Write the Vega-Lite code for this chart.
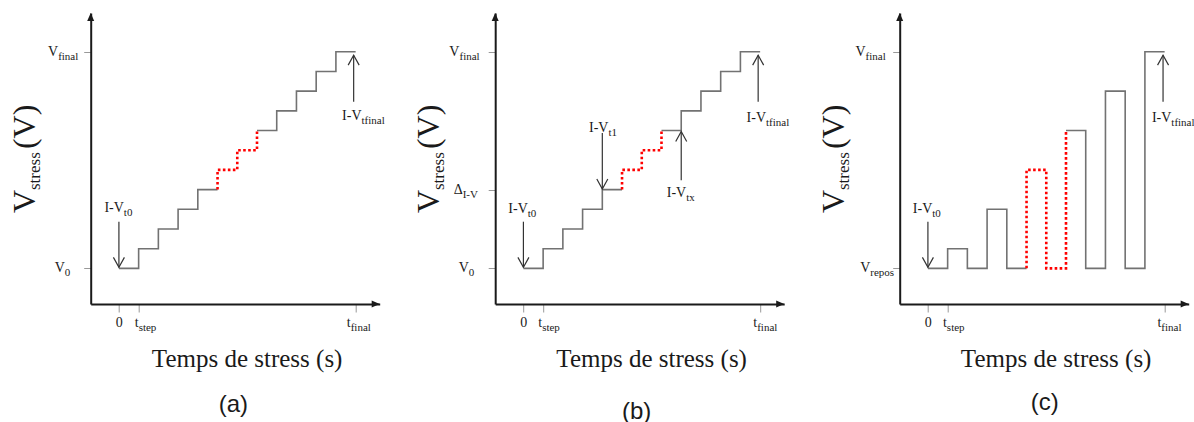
{
  "$schema": "https://vega.github.io/schema/vega-lite/v6.json",
  "autosize": {"type": "none"},
  "padding": {"left": 90.7, "top": 13, "right": 1103.3, "bottom": 409},
  "background": "white",
  "spacing": 115.5,
  "bounds": "flush",
  "config": {
    "view": {"stroke": null},
    "axis": {"labels": false, "title": null, "grid": false, "domainColor": "#1a1a1a", "domainWidth": 2, "tickColor": "#999999", "tickWidth": 1},
    "axisX": {"tickSize": 8},
    "axisY": {"tickSize": 7}
  },
  "datasets": {
    "lines": [
      {"p":"a","s":1,"k":"solid","i":0,"t":0,"v":0},{"p":"a","s":1,"k":"solid","i":1,"t":1,"v":0},{"p":"a","s":1,"k":"solid","i":2,"t":1,"v":1},{"p":"a","s":1,"k":"solid","i":3,"t":2,"v":1},{"p":"a","s":1,"k":"solid","i":4,"t":2,"v":2},{"p":"a","s":1,"k":"solid","i":5,"t":3,"v":2},{"p":"a","s":1,"k":"solid","i":6,"t":3,"v":3},{"p":"a","s":1,"k":"solid","i":7,"t":4,"v":3},{"p":"a","s":1,"k":"solid","i":8,"t":4,"v":4},{"p":"a","s":1,"k":"solid","i":9,"t":5,"v":4},
      {"p":"a","s":2,"k":"dot","i":0,"t":5,"v":4},{"p":"a","s":2,"k":"dot","i":1,"t":5,"v":5},{"p":"a","s":2,"k":"dot","i":2,"t":6,"v":5},{"p":"a","s":2,"k":"dot","i":3,"t":6,"v":6},{"p":"a","s":2,"k":"dot","i":4,"t":7,"v":6},{"p":"a","s":2,"k":"dot","i":5,"t":7,"v":7},
      {"p":"a","s":3,"k":"solid","i":0,"t":7,"v":7},{"p":"a","s":3,"k":"solid","i":1,"t":8,"v":7},{"p":"a","s":3,"k":"solid","i":2,"t":8,"v":8},{"p":"a","s":3,"k":"solid","i":3,"t":9,"v":8},{"p":"a","s":3,"k":"solid","i":4,"t":9,"v":9},{"p":"a","s":3,"k":"solid","i":5,"t":10,"v":9},{"p":"a","s":3,"k":"solid","i":6,"t":10,"v":10},{"p":"a","s":3,"k":"solid","i":7,"t":11,"v":10},{"p":"a","s":3,"k":"solid","i":8,"t":11,"v":11},{"p":"a","s":3,"k":"solid","i":9,"t":12,"v":11},
      {"p":"b","s":1,"k":"solid","i":0,"t":0,"v":0},{"p":"b","s":1,"k":"solid","i":1,"t":1,"v":0},{"p":"b","s":1,"k":"solid","i":2,"t":1,"v":1},{"p":"b","s":1,"k":"solid","i":3,"t":2,"v":1},{"p":"b","s":1,"k":"solid","i":4,"t":2,"v":2},{"p":"b","s":1,"k":"solid","i":5,"t":3,"v":2},{"p":"b","s":1,"k":"solid","i":6,"t":3,"v":3},{"p":"b","s":1,"k":"solid","i":7,"t":4,"v":3},{"p":"b","s":1,"k":"solid","i":8,"t":4,"v":4},{"p":"b","s":1,"k":"solid","i":9,"t":5,"v":4},
      {"p":"b","s":2,"k":"dot","i":0,"t":5,"v":4},{"p":"b","s":2,"k":"dot","i":1,"t":5,"v":5},{"p":"b","s":2,"k":"dot","i":2,"t":6,"v":5},{"p":"b","s":2,"k":"dot","i":3,"t":6,"v":6},{"p":"b","s":2,"k":"dot","i":4,"t":7,"v":6},{"p":"b","s":2,"k":"dot","i":5,"t":7,"v":7},
      {"p":"b","s":3,"k":"solid","i":0,"t":7,"v":7},{"p":"b","s":3,"k":"solid","i":1,"t":8,"v":7},{"p":"b","s":3,"k":"solid","i":2,"t":8,"v":8},{"p":"b","s":3,"k":"solid","i":3,"t":9,"v":8},{"p":"b","s":3,"k":"solid","i":4,"t":9,"v":9},{"p":"b","s":3,"k":"solid","i":5,"t":10,"v":9},{"p":"b","s":3,"k":"solid","i":6,"t":10,"v":10},{"p":"b","s":3,"k":"solid","i":7,"t":11,"v":10},{"p":"b","s":3,"k":"solid","i":8,"t":11,"v":11},{"p":"b","s":3,"k":"solid","i":9,"t":12,"v":11},
      {"p":"c","s":1,"k":"solid","i":0,"t":0,"v":0},{"p":"c","s":1,"k":"solid","i":1,"t":1,"v":0},{"p":"c","s":1,"k":"solid","i":2,"t":1,"v":1},{"p":"c","s":1,"k":"solid","i":3,"t":2,"v":1},{"p":"c","s":1,"k":"solid","i":4,"t":2,"v":0},{"p":"c","s":1,"k":"solid","i":5,"t":3,"v":0},{"p":"c","s":1,"k":"solid","i":6,"t":3,"v":3},{"p":"c","s":1,"k":"solid","i":7,"t":4,"v":3},{"p":"c","s":1,"k":"solid","i":8,"t":4,"v":0},{"p":"c","s":1,"k":"solid","i":9,"t":5,"v":0},
      {"p":"c","s":2,"k":"dot","i":0,"t":5,"v":0},{"p":"c","s":2,"k":"dot","i":1,"t":5,"v":5},{"p":"c","s":2,"k":"dot","i":2,"t":6,"v":5},{"p":"c","s":2,"k":"dot","i":3,"t":6,"v":0},{"p":"c","s":2,"k":"dot","i":4,"t":7,"v":0},{"p":"c","s":2,"k":"dot","i":5,"t":7,"v":7},
      {"p":"c","s":3,"k":"solid","i":0,"t":7,"v":7},{"p":"c","s":3,"k":"solid","i":1,"t":8,"v":7},{"p":"c","s":3,"k":"solid","i":2,"t":8,"v":0},{"p":"c","s":3,"k":"solid","i":3,"t":9,"v":0},{"p":"c","s":3,"k":"solid","i":4,"t":9,"v":9},{"p":"c","s":3,"k":"solid","i":5,"t":10,"v":9},{"p":"c","s":3,"k":"solid","i":6,"t":10,"v":0},{"p":"c","s":3,"k":"solid","i":7,"t":11,"v":0},{"p":"c","s":3,"k":"solid","i":8,"t":11,"v":11},{"p":"c","s":3,"k":"solid","i":9,"t":12,"v":11}
    ],
    "arrows": [
      {"p":"a","t":0,"v":2.37,"v2":0.05,"dir":"down"},
      {"p":"a","t":11.9,"v":8.46,"v2":10.83,"dir":"up"},
      {"p":"b","t":0,"v":2.37,"v2":0.05,"dir":"down"},
      {"p":"b","t":4,"v":6.87,"v2":4.03,"dir":"down"},
      {"p":"b","t":8,"v":4.48,"v2":6.95,"dir":"up"},
      {"p":"b","t":11.9,"v":8.46,"v2":10.83,"dir":"up"},
      {"p":"c","t":0,"v":2.37,"v2":0.05,"dir":"down"},
      {"p":"c","t":11.92,"v":8.46,"v2":10.83,"dir":"up"}
    ],
    "labels": [
      {"p":"a","t":-3.08,"v":11,"m":"V","sub":"final"},
      {"p":"a","t":-2.74,"v":0,"m":"V","sub":"0"},
      {"p":"a","t":0.19,"v":-2.79,"m":"0","sub":""},
      {"p":"a","t":1.0,"v":-2.79,"m":"t","sub":"step"},
      {"p":"a","t":11.75,"v":-2.79,"m":"t","sub":"final"},
      {"p":"a","t":0.25,"v":3.05,"m":"I-V","sub":"t0"},
      {"p":"a","t":12.3,"v":7.73,"m":"I-V","sub":"tfinal"},
      {"p":"b","t":-3.24,"v":11,"m":"V","sub":"final"},
      {"p":"b","t":-3.08,"v":4,"m":"Δ","sub":"I-V"},
      {"p":"b","t":-2.77,"v":0,"m":"V","sub":"0"},
      {"p":"b","t":0.19,"v":-2.79,"m":"0","sub":""},
      {"p":"b","t":0.95,"v":-2.79,"m":"t","sub":"step"},
      {"p":"b","t":11.85,"v":-2.79,"m":"t","sub":"final"},
      {"p":"b","t":0.22,"v":3.0,"m":"I-V","sub":"t0"},
      {"p":"b","t":4.31,"v":7.11,"m":"I-V","sub":"t1"},
      {"p":"b","t":8.25,"v":3.84,"m":"I-V","sub":"tx"},
      {"p":"b","t":12.3,"v":7.62,"m":"I-V","sub":"tfinal"},
      {"p":"c","t":-3.16,"v":11,"m":"V","sub":"final"},
      {"p":"c","t":-2.92,"v":0,"m":"V","sub":"repos"},
      {"p":"c","t":0.2,"v":-2.79,"m":"0","sub":""},
      {"p":"c","t":0.96,"v":-2.79,"m":"t","sub":"step"},
      {"p":"c","t":11.83,"v":-2.79,"m":"t","sub":"final"},
      {"p":"c","t":0.22,"v":3.0,"m":"I-V","sub":"t0"},
      {"p":"c","t":12.34,"v":7.62,"m":"I-V","sub":"tfinal"}
    ],
    "titles": [
      {"r":"ymain","t":-4.26,"v":3.98,"m":"V"},
      {"r":"ysub","t":-4.26,"v":3.98,"m":"stress"},
      {"r":"yunit","t":-4.26,"v":6.06,"m":"(V)"},
      {"r":"xtitle","t":6.5,"v":-5.0,"m":"Temps de stress (s)"}
    ],
    "panels": [
      {"p":"a","t":5.8,"v":-6.94,"m":"(a)"},
      {"p":"b","t":5.74,"v":-7.29,"m":"(b)"},
      {"p":"c","t":5.92,"v":-6.84,"m":"(c)"}
    ]
  },
  "hconcat": [
    {
      "width": 289, "height": 291,
      "layer": [
        {"data":{"name":"lines"},"transform":[{"filter":"datum.p==='a' && datum.k==='solid'"}],
         "mark":{"type":"line","color":"#727272","strokeWidth":1.6},
         "encoding":{"x":{"field":"t","type":"quantitative","scale":{"domain":[-1.43,13.22],"nice":false,"zero":false},"axis":{"values":[0,1,12]}},
                     "y":{"field":"v","type":"quantitative","scale":{"domain":[-1.81,12.97],"nice":false,"zero":false},"axis":{"values":[0,11]}},
                     "detail":{"field":"s","type":"nominal"},"order":{"field":"i","type":"quantitative"}}},
        {"data":{"name":"lines"},"transform":[{"filter":"datum.p==='a' && datum.k==='dot'"}],
         "mark":{"type":"line","color":"#ff0000","strokeWidth":2.6,"strokeDash":[2.6,2.4]},
         "encoding":{"x":{"field":"t","type":"quantitative","scale":{"domain":[-1.43,13.22],"nice":false,"zero":false}},
                     "y":{"field":"v","type":"quantitative","scale":{"domain":[-1.81,12.97],"nice":false,"zero":false}},
                     "detail":{"field":"s","type":"nominal"},"order":{"field":"i","type":"quantitative"}}},
        {"data":{"name":"arrows"},"transform":[{"filter":"datum.p==='a'"}],
         "mark":{"type":"rule","color":"#333333","strokeWidth":1.2},
         "encoding":{"x":{"field":"t","type":"quantitative","scale":{"domain":[-1.43,13.22],"nice":false,"zero":false}},
                     "y":{"field":"v","type":"quantitative","scale":{"domain":[-1.81,12.97],"nice":false,"zero":false}},
                     "y2":{"field":"v2"}}},
        {"data":{"name":"arrows"},"transform":[{"filter":"datum.p==='a'"}],
         "mark":{"type":"point","filled":false,"size":400,"strokeWidth":1.2,"color":"#333333","opacity":1},
         "encoding":{"x":{"field":"t","type":"quantitative","scale":{"domain":[-1.43,13.22],"nice":false,"zero":false}},
                     "y":{"field":"v2","type":"quantitative","scale":{"domain":[-1.81,12.97],"nice":false,"zero":false}},
                     "shape":{"field":"dir","type":"nominal","scale":{"domain":["up","down"],"range":["M -0.55 1 L 0 0 L 0.55 1","M -0.55 -1 L 0 0 L 0.55 -1"]},"legend":null}}},
        {"data":{"values":[{}]},
         "mark":{"type":"point","shape":"M -0.44 1 L 0 0 L 0.44 1 Z","filled":true,"size":256,"color":"#1a1a1a","opacity":1},
         "encoding":{"x":{"datum":-1.43,"type":"quantitative","scale":{"domain":[-1.43,13.22],"nice":false,"zero":false}},
                     "y":{"datum":12.97,"type":"quantitative","scale":{"domain":[-1.81,12.97],"nice":false,"zero":false}}}},
        {"data":{"values":[{}]},
         "mark":{"type":"point","shape":"M -1 -0.44 L 0 0 L -1 0.44 Z","filled":true,"size":256,"color":"#1a1a1a","opacity":1},
         "encoding":{"x":{"datum":13.22,"type":"quantitative","scale":{"domain":[-1.43,13.22],"nice":false,"zero":false}},
                     "y":{"datum":-1.81,"type":"quantitative","scale":{"domain":[-1.81,12.97],"nice":false,"zero":false}}}},
        {"data":{"name":"labels"},"transform":[{"filter":"datum.p==='a'"}],
         "mark":{"type":"text","align":"right","baseline":"middle","font":"Liberation Serif","fontSize":14,"color":"#1a1a1a"},
         "encoding":{"x":{"field":"t","type":"quantitative","scale":{"domain":[-1.43,13.22],"nice":false,"zero":false}},
                     "y":{"field":"v","type":"quantitative","scale":{"domain":[-1.81,12.97],"nice":false,"zero":false}},
                     "text":{"field":"m"}}},
        {"data":{"name":"labels"},"transform":[{"filter":"datum.p==='a'"}],
         "mark":{"type":"text","align":"left","baseline":"middle","font":"Liberation Serif","fontSize":11,"dy":5,"color":"#1a1a1a"},
         "encoding":{"x":{"field":"t","type":"quantitative","scale":{"domain":[-1.43,13.22],"nice":false,"zero":false}},
                     "y":{"field":"v","type":"quantitative","scale":{"domain":[-1.81,12.97],"nice":false,"zero":false}},
                     "text":{"field":"sub"}}},
        {"data":{"name":"titles"},"transform":[{"filter":"datum.r==='ymain'"}],
         "mark":{"type":"text","align":"right","baseline":"alphabetic","angle":270,"font":"Liberation Serif","fontSize":32,"color":"#1a1a1a"},
         "encoding":{"x":{"field":"t","type":"quantitative","scale":{"domain":[-1.43,13.22],"nice":false,"zero":false}},
                     "y":{"field":"v","type":"quantitative","scale":{"domain":[-1.81,12.97],"nice":false,"zero":false}},
                     "text":{"field":"m"}}},
        {"data":{"name":"titles"},"transform":[{"filter":"datum.r==='ysub'"}],
         "mark":{"type":"text","align":"left","baseline":"alphabetic","angle":270,"dy":5,"font":"Liberation Serif","fontSize":17,"color":"#1a1a1a"},
         "encoding":{"x":{"field":"t","type":"quantitative","scale":{"domain":[-1.43,13.22],"nice":false,"zero":false}},
                     "y":{"field":"v","type":"quantitative","scale":{"domain":[-1.81,12.97],"nice":false,"zero":false}},
                     "text":{"field":"m"}}},
        {"data":{"name":"titles"},"transform":[{"filter":"datum.r==='yunit'"}],
         "mark":{"type":"text","align":"left","baseline":"alphabetic","angle":270,"font":"Liberation Serif","fontSize":32,"color":"#1a1a1a"},
         "encoding":{"x":{"field":"t","type":"quantitative","scale":{"domain":[-1.43,13.22],"nice":false,"zero":false}},
                     "y":{"field":"v","type":"quantitative","scale":{"domain":[-1.81,12.97],"nice":false,"zero":false}},
                     "text":{"field":"m"}}},
        {"data":{"name":"titles"},"transform":[{"filter":"datum.r==='xtitle'"}],
         "mark":{"type":"text","align":"center","baseline":"alphabetic","font":"Liberation Serif","fontSize":25,"color":"#1a1a1a"},
         "encoding":{"x":{"field":"t","type":"quantitative","scale":{"domain":[-1.43,13.22],"nice":false,"zero":false}},
                     "y":{"field":"v","type":"quantitative","scale":{"domain":[-1.81,12.97],"nice":false,"zero":false}},
                     "text":{"field":"m"}}},
        {"data":{"name":"panels"},"transform":[{"filter":"datum.p==='a'"}],
         "mark":{"type":"text","align":"center","baseline":"middle","font":"Liberation Sans","fontSize":24,"color":"#1a1a1a"},
         "encoding":{"x":{"field":"t","type":"quantitative","scale":{"domain":[-1.43,13.22],"nice":false,"zero":false}},
                     "y":{"field":"v","type":"quantitative","scale":{"domain":[-1.81,12.97],"nice":false,"zero":false}},
                     "text":{"field":"m"}}}
      ]
    },
    {
      "width": 289, "height": 291,
      "layer": [
        {"data":{"name":"lines"},"transform":[{"filter":"datum.p==='b' && datum.k==='solid'"}],
         "mark":{"type":"line","color":"#727272","strokeWidth":1.6},
         "encoding":{"x":{"field":"t","type":"quantitative","scale":{"domain":[-1.43,13.22],"nice":false,"zero":false},"axis":{"values":[0,1,12]}},
                     "y":{"field":"v","type":"quantitative","scale":{"domain":[-1.81,12.97],"nice":false,"zero":false},"axis":{"values":[0,4,11]}},
                     "detail":{"field":"s","type":"nominal"},"order":{"field":"i","type":"quantitative"}}},
        {"data":{"name":"lines"},"transform":[{"filter":"datum.p==='b' && datum.k==='dot'"}],
         "mark":{"type":"line","color":"#ff0000","strokeWidth":2.6,"strokeDash":[2.6,2.4]},
         "encoding":{"x":{"field":"t","type":"quantitative","scale":{"domain":[-1.43,13.22],"nice":false,"zero":false}},
                     "y":{"field":"v","type":"quantitative","scale":{"domain":[-1.81,12.97],"nice":false,"zero":false}},
                     "detail":{"field":"s","type":"nominal"},"order":{"field":"i","type":"quantitative"}}},
        {"data":{"name":"arrows"},"transform":[{"filter":"datum.p==='b'"}],
         "mark":{"type":"rule","color":"#333333","strokeWidth":1.2},
         "encoding":{"x":{"field":"t","type":"quantitative","scale":{"domain":[-1.43,13.22],"nice":false,"zero":false}},
                     "y":{"field":"v","type":"quantitative","scale":{"domain":[-1.81,12.97],"nice":false,"zero":false}},
                     "y2":{"field":"v2"}}},
        {"data":{"name":"arrows"},"transform":[{"filter":"datum.p==='b'"}],
         "mark":{"type":"point","filled":false,"size":400,"strokeWidth":1.2,"color":"#333333","opacity":1},
         "encoding":{"x":{"field":"t","type":"quantitative","scale":{"domain":[-1.43,13.22],"nice":false,"zero":false}},
                     "y":{"field":"v2","type":"quantitative","scale":{"domain":[-1.81,12.97],"nice":false,"zero":false}},
                     "shape":{"field":"dir","type":"nominal","scale":{"domain":["up","down"],"range":["M -0.55 1 L 0 0 L 0.55 1","M -0.55 -1 L 0 0 L 0.55 -1"]},"legend":null}}},
        {"data":{"values":[{}]},
         "mark":{"type":"point","shape":"M -0.44 1 L 0 0 L 0.44 1 Z","filled":true,"size":256,"color":"#1a1a1a","opacity":1},
         "encoding":{"x":{"datum":-1.43,"type":"quantitative","scale":{"domain":[-1.43,13.22],"nice":false,"zero":false}},
                     "y":{"datum":12.97,"type":"quantitative","scale":{"domain":[-1.81,12.97],"nice":false,"zero":false}}}},
        {"data":{"values":[{}]},
         "mark":{"type":"point","shape":"M -1 -0.44 L 0 0 L -1 0.44 Z","filled":true,"size":256,"color":"#1a1a1a","opacity":1},
         "encoding":{"x":{"datum":13.22,"type":"quantitative","scale":{"domain":[-1.43,13.22],"nice":false,"zero":false}},
                     "y":{"datum":-1.81,"type":"quantitative","scale":{"domain":[-1.81,12.97],"nice":false,"zero":false}}}},
        {"data":{"name":"labels"},"transform":[{"filter":"datum.p==='b'"}],
         "mark":{"type":"text","align":"right","baseline":"middle","font":"Liberation Serif","fontSize":14,"color":"#1a1a1a"},
         "encoding":{"x":{"field":"t","type":"quantitative","scale":{"domain":[-1.43,13.22],"nice":false,"zero":false}},
                     "y":{"field":"v","type":"quantitative","scale":{"domain":[-1.81,12.97],"nice":false,"zero":false}},
                     "text":{"field":"m"}}},
        {"data":{"name":"labels"},"transform":[{"filter":"datum.p==='b'"}],
         "mark":{"type":"text","align":"left","baseline":"middle","font":"Liberation Serif","fontSize":11,"dy":5,"color":"#1a1a1a"},
         "encoding":{"x":{"field":"t","type":"quantitative","scale":{"domain":[-1.43,13.22],"nice":false,"zero":false}},
                     "y":{"field":"v","type":"quantitative","scale":{"domain":[-1.81,12.97],"nice":false,"zero":false}},
                     "text":{"field":"sub"}}},
        {"data":{"name":"titles"},"transform":[{"filter":"datum.r==='ymain'"}],
         "mark":{"type":"text","align":"right","baseline":"alphabetic","angle":270,"font":"Liberation Serif","fontSize":32,"color":"#1a1a1a"},
         "encoding":{"x":{"field":"t","type":"quantitative","scale":{"domain":[-1.43,13.22],"nice":false,"zero":false}},
                     "y":{"field":"v","type":"quantitative","scale":{"domain":[-1.81,12.97],"nice":false,"zero":false}},
                     "text":{"field":"m"}}},
        {"data":{"name":"titles"},"transform":[{"filter":"datum.r==='ysub'"}],
         "mark":{"type":"text","align":"left","baseline":"alphabetic","angle":270,"dy":5,"font":"Liberation Serif","fontSize":17,"color":"#1a1a1a"},
         "encoding":{"x":{"field":"t","type":"quantitative","scale":{"domain":[-1.43,13.22],"nice":false,"zero":false}},
                     "y":{"field":"v","type":"quantitative","scale":{"domain":[-1.81,12.97],"nice":false,"zero":false}},
                     "text":{"field":"m"}}},
        {"data":{"name":"titles"},"transform":[{"filter":"datum.r==='yunit'"}],
         "mark":{"type":"text","align":"left","baseline":"alphabetic","angle":270,"font":"Liberation Serif","fontSize":32,"color":"#1a1a1a"},
         "encoding":{"x":{"field":"t","type":"quantitative","scale":{"domain":[-1.43,13.22],"nice":false,"zero":false}},
                     "y":{"field":"v","type":"quantitative","scale":{"domain":[-1.81,12.97],"nice":false,"zero":false}},
                     "text":{"field":"m"}}},
        {"data":{"name":"titles"},"transform":[{"filter":"datum.r==='xtitle'"}],
         "mark":{"type":"text","align":"center","baseline":"alphabetic","font":"Liberation Serif","fontSize":25,"color":"#1a1a1a"},
         "encoding":{"x":{"field":"t","type":"quantitative","scale":{"domain":[-1.43,13.22],"nice":false,"zero":false}},
                     "y":{"field":"v","type":"quantitative","scale":{"domain":[-1.81,12.97],"nice":false,"zero":false}},
                     "text":{"field":"m"}}},
        {"data":{"name":"panels"},"transform":[{"filter":"datum.p==='b'"}],
         "mark":{"type":"text","align":"center","baseline":"middle","font":"Liberation Sans","fontSize":24,"color":"#1a1a1a"},
         "encoding":{"x":{"field":"t","type":"quantitative","scale":{"domain":[-1.43,13.22],"nice":false,"zero":false}},
                     "y":{"field":"v","type":"quantitative","scale":{"domain":[-1.81,12.97],"nice":false,"zero":false}},
                     "text":{"field":"m"}}}
      ]
    },
    {
      "width": 289, "height": 291,
      "layer": [
        {"data":{"name":"lines"},"transform":[{"filter":"datum.p==='c' && datum.k==='solid'"}],
         "mark":{"type":"line","color":"#727272","strokeWidth":1.6},
         "encoding":{"x":{"field":"t","type":"quantitative","scale":{"domain":[-1.43,13.22],"nice":false,"zero":false},"axis":{"values":[0,1,12]}},
                     "y":{"field":"v","type":"quantitative","scale":{"domain":[-1.81,12.97],"nice":false,"zero":false},"axis":{"values":[0,11]}},
                     "detail":{"field":"s","type":"nominal"},"order":{"field":"i","type":"quantitative"}}},
        {"data":{"name":"lines"},"transform":[{"filter":"datum.p==='c' && datum.k==='dot'"}],
         "mark":{"type":"line","color":"#ff0000","strokeWidth":2.6,"strokeDash":[2.6,2.4]},
         "encoding":{"x":{"field":"t","type":"quantitative","scale":{"domain":[-1.43,13.22],"nice":false,"zero":false}},
                     "y":{"field":"v","type":"quantitative","scale":{"domain":[-1.81,12.97],"nice":false,"zero":false}},
                     "detail":{"field":"s","type":"nominal"},"order":{"field":"i","type":"quantitative"}}},
        {"data":{"name":"arrows"},"transform":[{"filter":"datum.p==='c'"}],
         "mark":{"type":"rule","color":"#333333","strokeWidth":1.2},
         "encoding":{"x":{"field":"t","type":"quantitative","scale":{"domain":[-1.43,13.22],"nice":false,"zero":false}},
                     "y":{"field":"v","type":"quantitative","scale":{"domain":[-1.81,12.97],"nice":false,"zero":false}},
                     "y2":{"field":"v2"}}},
        {"data":{"name":"arrows"},"transform":[{"filter":"datum.p==='c'"}],
         "mark":{"type":"point","filled":false,"size":400,"strokeWidth":1.2,"color":"#333333","opacity":1},
         "encoding":{"x":{"field":"t","type":"quantitative","scale":{"domain":[-1.43,13.22],"nice":false,"zero":false}},
                     "y":{"field":"v2","type":"quantitative","scale":{"domain":[-1.81,12.97],"nice":false,"zero":false}},
                     "shape":{"field":"dir","type":"nominal","scale":{"domain":["up","down"],"range":["M -0.55 1 L 0 0 L 0.55 1","M -0.55 -1 L 0 0 L 0.55 -1"]},"legend":null}}},
        {"data":{"values":[{}]},
         "mark":{"type":"point","shape":"M -0.44 1 L 0 0 L 0.44 1 Z","filled":true,"size":256,"color":"#1a1a1a","opacity":1},
         "encoding":{"x":{"datum":-1.43,"type":"quantitative","scale":{"domain":[-1.43,13.22],"nice":false,"zero":false}},
                     "y":{"datum":12.97,"type":"quantitative","scale":{"domain":[-1.81,12.97],"nice":false,"zero":false}}}},
        {"data":{"values":[{}]},
         "mark":{"type":"point","shape":"M -1 -0.44 L 0 0 L -1 0.44 Z","filled":true,"size":256,"color":"#1a1a1a","opacity":1},
         "encoding":{"x":{"datum":13.22,"type":"quantitative","scale":{"domain":[-1.43,13.22],"nice":false,"zero":false}},
                     "y":{"datum":-1.81,"type":"quantitative","scale":{"domain":[-1.81,12.97],"nice":false,"zero":false}}}},
        {"data":{"name":"labels"},"transform":[{"filter":"datum.p==='c'"}],
         "mark":{"type":"text","align":"right","baseline":"middle","font":"Liberation Serif","fontSize":14,"color":"#1a1a1a"},
         "encoding":{"x":{"field":"t","type":"quantitative","scale":{"domain":[-1.43,13.22],"nice":false,"zero":false}},
                     "y":{"field":"v","type":"quantitative","scale":{"domain":[-1.81,12.97],"nice":false,"zero":false}},
                     "text":{"field":"m"}}},
        {"data":{"name":"labels"},"transform":[{"filter":"datum.p==='c'"}],
         "mark":{"type":"text","align":"left","baseline":"middle","font":"Liberation Serif","fontSize":11,"dy":5,"color":"#1a1a1a"},
         "encoding":{"x":{"field":"t","type":"quantitative","scale":{"domain":[-1.43,13.22],"nice":false,"zero":false}},
                     "y":{"field":"v","type":"quantitative","scale":{"domain":[-1.81,12.97],"nice":false,"zero":false}},
                     "text":{"field":"sub"}}},
        {"data":{"name":"titles"},"transform":[{"filter":"datum.r==='ymain'"}],
         "mark":{"type":"text","align":"right","baseline":"alphabetic","angle":270,"font":"Liberation Serif","fontSize":32,"color":"#1a1a1a"},
         "encoding":{"x":{"field":"t","type":"quantitative","scale":{"domain":[-1.43,13.22],"nice":false,"zero":false}},
                     "y":{"field":"v","type":"quantitative","scale":{"domain":[-1.81,12.97],"nice":false,"zero":false}},
                     "text":{"field":"m"}}},
        {"data":{"name":"titles"},"transform":[{"filter":"datum.r==='ysub'"}],
         "mark":{"type":"text","align":"left","baseline":"alphabetic","angle":270,"dy":5,"font":"Liberation Serif","fontSize":17,"color":"#1a1a1a"},
         "encoding":{"x":{"field":"t","type":"quantitative","scale":{"domain":[-1.43,13.22],"nice":false,"zero":false}},
                     "y":{"field":"v","type":"quantitative","scale":{"domain":[-1.81,12.97],"nice":false,"zero":false}},
                     "text":{"field":"m"}}},
        {"data":{"name":"titles"},"transform":[{"filter":"datum.r==='yunit'"}],
         "mark":{"type":"text","align":"left","baseline":"alphabetic","angle":270,"font":"Liberation Serif","fontSize":32,"color":"#1a1a1a"},
         "encoding":{"x":{"field":"t","type":"quantitative","scale":{"domain":[-1.43,13.22],"nice":false,"zero":false}},
                     "y":{"field":"v","type":"quantitative","scale":{"domain":[-1.81,12.97],"nice":false,"zero":false}},
                     "text":{"field":"m"}}},
        {"data":{"name":"titles"},"transform":[{"filter":"datum.r==='xtitle'"}],
         "mark":{"type":"text","align":"center","baseline":"alphabetic","font":"Liberation Serif","fontSize":25,"color":"#1a1a1a"},
         "encoding":{"x":{"field":"t","type":"quantitative","scale":{"domain":[-1.43,13.22],"nice":false,"zero":false}},
                     "y":{"field":"v","type":"quantitative","scale":{"domain":[-1.81,12.97],"nice":false,"zero":false}},
                     "text":{"field":"m"}}},
        {"data":{"name":"panels"},"transform":[{"filter":"datum.p==='c'"}],
         "mark":{"type":"text","align":"center","baseline":"middle","font":"Liberation Sans","fontSize":24,"color":"#1a1a1a"},
         "encoding":{"x":{"field":"t","type":"quantitative","scale":{"domain":[-1.43,13.22],"nice":false,"zero":false}},
                     "y":{"field":"v","type":"quantitative","scale":{"domain":[-1.81,12.97],"nice":false,"zero":false}},
                     "text":{"field":"m"}}}
      ]
    }
  ]
}
